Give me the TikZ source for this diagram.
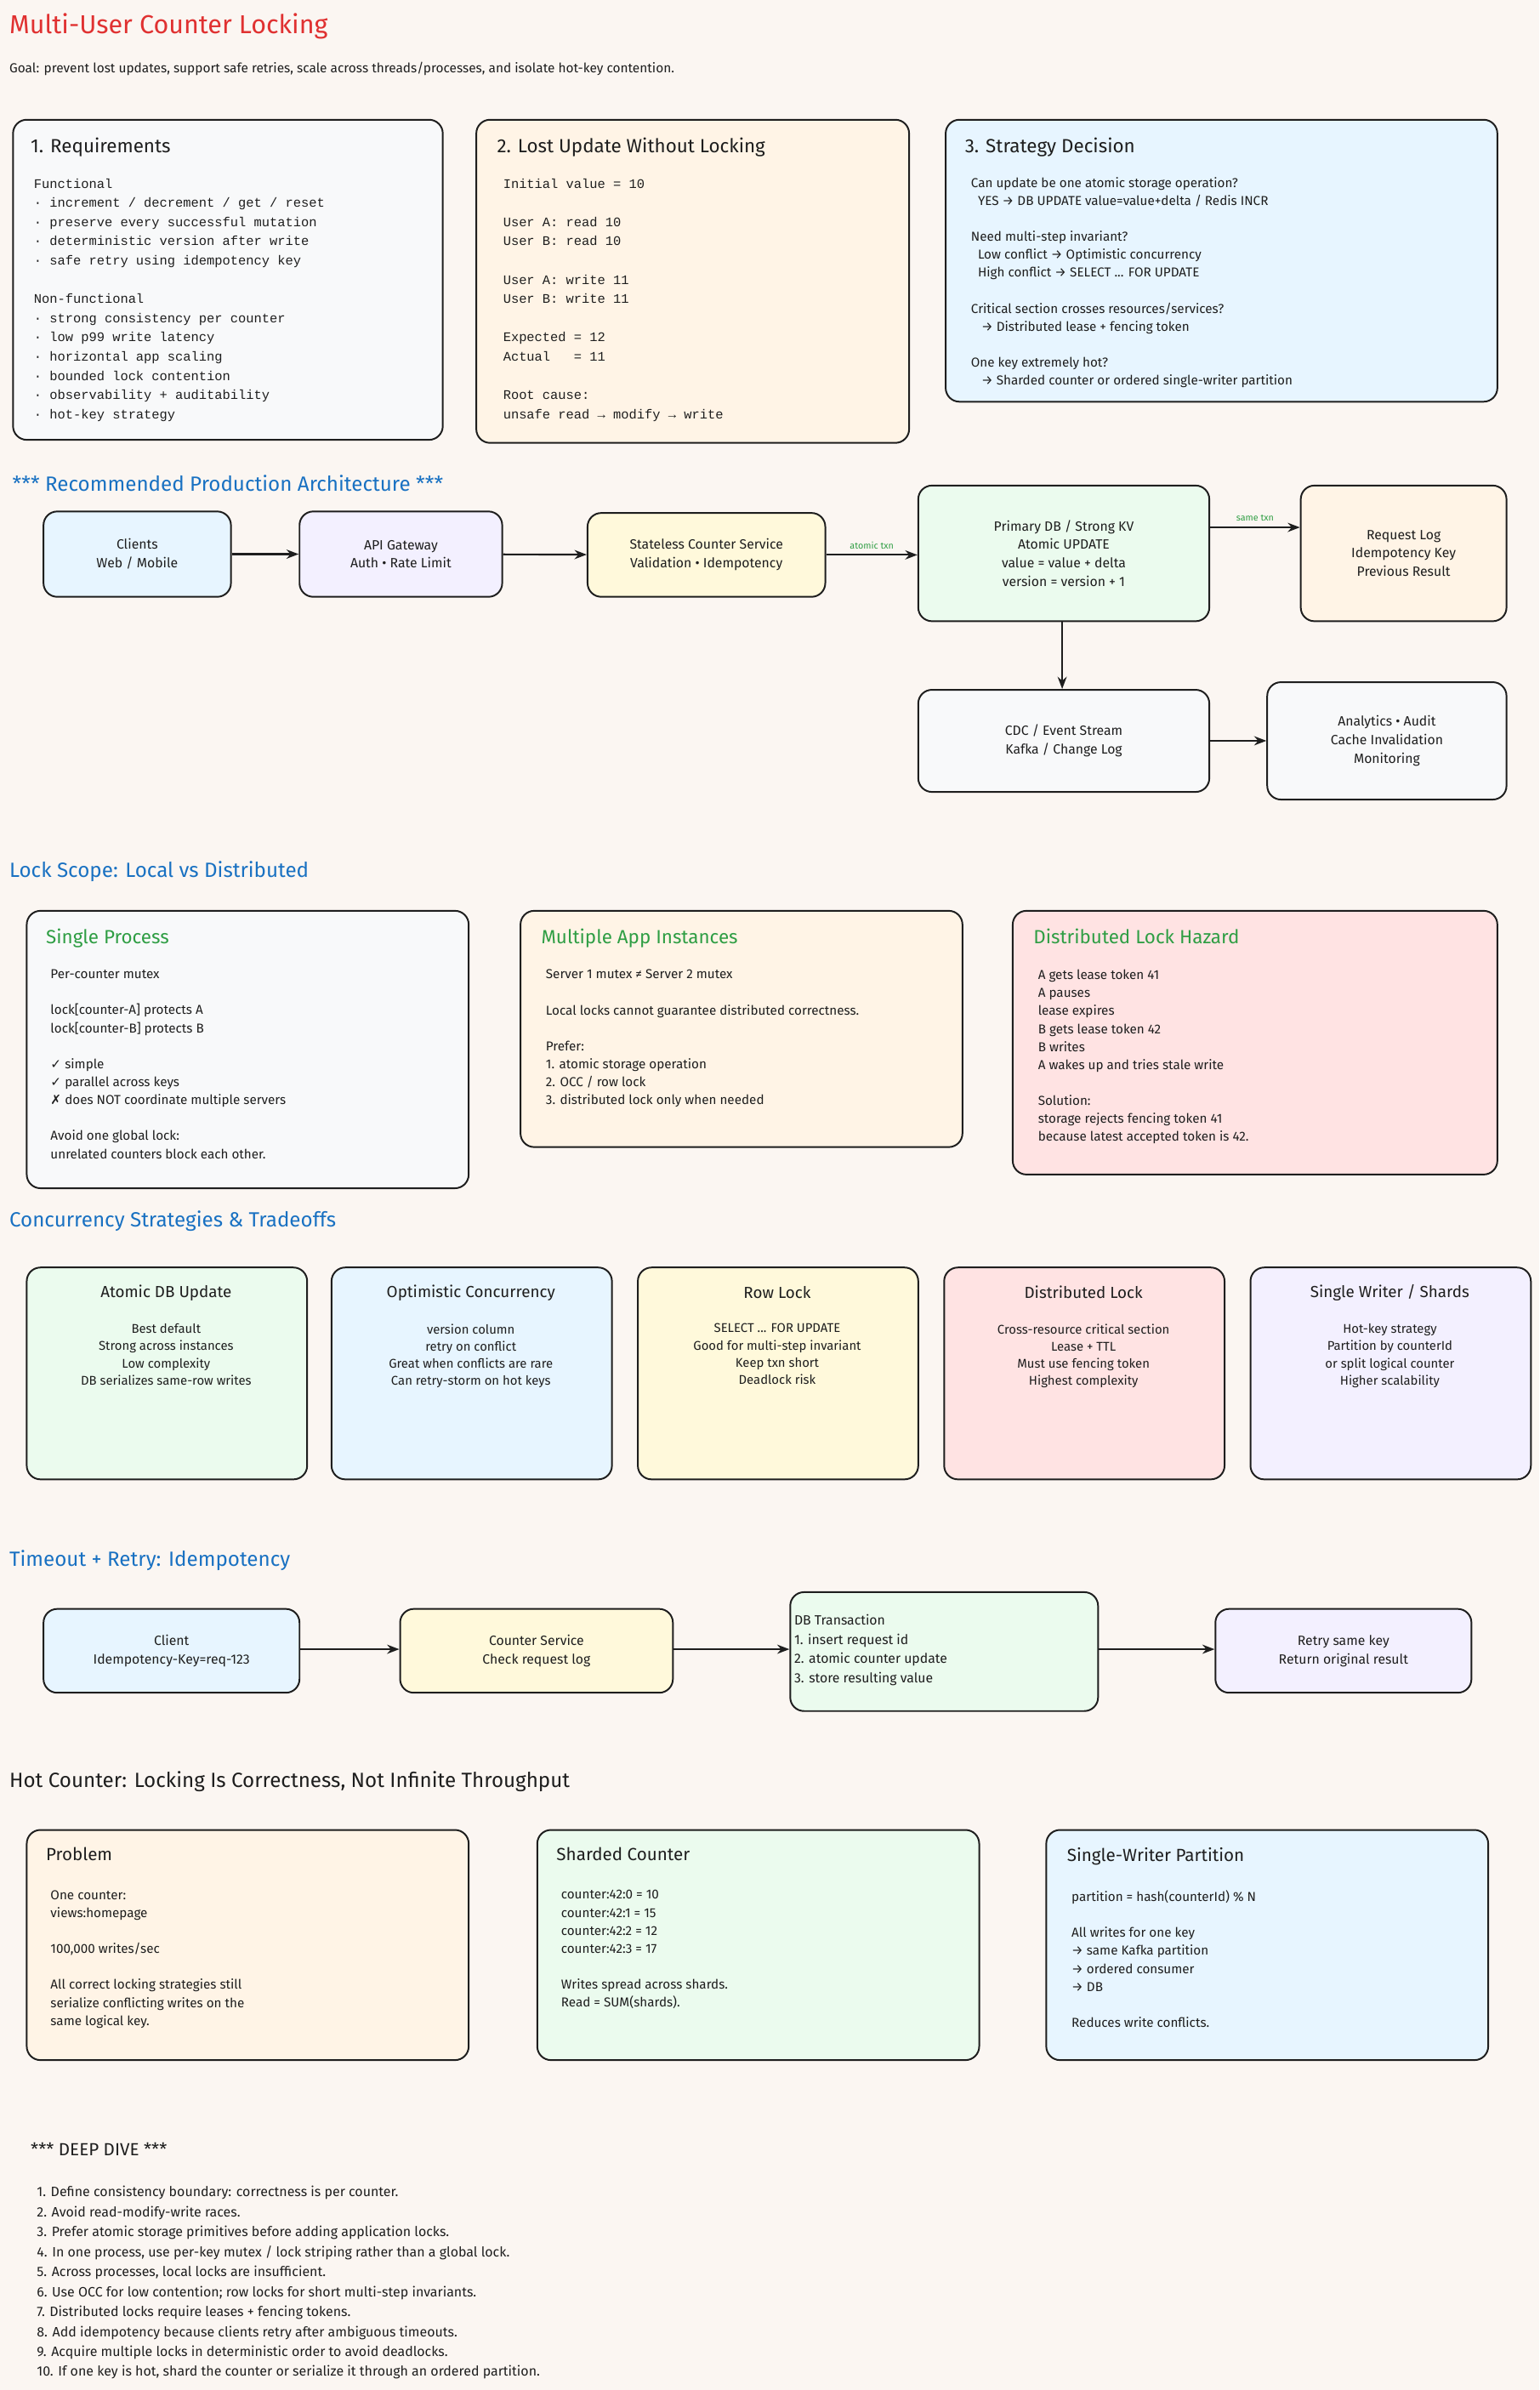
\documentclass[tikz,border=0pt]{standalone}
\usepackage{fontspec}
\setmainfont{Fira Sans}
\newfontfamily\mono{Liberation Mono}
\newfontfamily\symf{DejaVu Sans}
\usetikzlibrary{calc,arrows.meta}
\definecolor{bg}{HTML}{FBF6F2}
\definecolor{ink}{HTML}{1E1E1E}
\definecolor{ttl}{HTML}{E03131}
\definecolor{hb}{HTML}{1971C2}
\definecolor{hg}{HTML}{2F9E44}
\definecolor{cgray}{HTML}{F8F9FA}
\definecolor{corange}{HTML}{FFF4E6}
\definecolor{cblue}{HTML}{E7F5FF}
\definecolor{cgreen}{HTML}{EBFBEE}
\definecolor{cyellow}{HTML}{FFF9DB}
\definecolor{cred}{HTML}{FFE3E3}
\definecolor{cpurple}{HTML}{F3F0FF}
\tikzset{
 box/.style={draw=ink,line width=1.1pt,rounded corners=9pt},
 txt/.style={anchor=north west,align=left,font=\fontsize{8.8}{12.6}\selectfont,text=ink,inner sep=0},
 mtxt/.style={txt,font=\mono\fontsize{8.6}{12.6}\selectfont},
 ctxt/.style={align=center,font=\fontsize{8.8}{12.2}\selectfont,text=ink},
 btitle/.style={anchor=north west,font=\fontsize{12.5}{14}\selectfont,text=ink,inner sep=0},
 sec/.style={anchor=west,font=\fontsize{13.5}{15}\selectfont,text=hb,inner sep=0},
 arr/.style={-{Stealth[length=8pt,width=6pt]},line width=1.2pt,draw=ink},
 lbl/.style={font=\fontsize{6}{7}\selectfont,text=hg,above}
}
\newcommand{\bx}[6]{\node[box,fill=#6,anchor=north west,minimum width=#4-#2,minimum height=#5-#3,inner sep=0] (#1) at (#2,#3) {};}
\newcommand{\cbx}[7]{\node[box,fill=#6,anchor=north west,minimum width=#4-#2,minimum height=#5-#3,inner sep=0,ctxt] (#1) at (#2,#3) {#7};}
\begin{document}
\begin{tikzpicture}[x=1pt,y=-1pt]
\fill[bg] (0,0) rectangle (1010,1568);
\useasboundingbox (0,0) rectangle (1010,1568);
\node[anchor=west,font=\fontsize{17}{19}\selectfont,text=ttl,inner sep=0] (title) at (6,17) {Multi-User Counter Locking};
\node[anchor=west,font=\fontsize{8.6}{10}\selectfont,text=ink,inner sep=0] (goal) at (6,45) {Goal: prevent lost updates, support safe retries, scale across threads/processes, and isolate hot-key contention.};
% top boxes
\bx{b1}{8}{78}{290}{288}{cgray}
\node[btitle] at (20,90) {1. Requirements};
\node[mtxt] at (22,117) {Functional\\· increment / decrement / get / reset\\· preserve every successful mutation\\· deterministic version after write\\· safe retry using idempotency key\\[12.6pt]Non-functional\\· strong consistency per counter\\· low p99 write latency\\· horizontal app scaling\\· bounded lock contention\\· observability + auditability\\· hot-key strategy};
\bx{b2}{312}{78}{596}{290}{corange}
\node[btitle] at (326,90) {2. Lost Update Without Locking};
\node[mtxt] at (330,117) {Initial value = 10\\[12.6pt]User A: read 10\\User B: read 10\\[12.6pt]User A: write 11\\User B: write 11\\[12.6pt]Expected = 12\\Actual~~~= 11\\[12.6pt]Root cause:\\unsafe read → modify → write};
\bx{b3}{620}{78}{982}{263}{cblue}
\node[btitle] at (633,90) {3. Strategy Decision};
\node[txt,font=\fontsize{8.5}{11.8}\selectfont] at (637,116) {Can update be one atomic storage operation?\\~~YES → DB UPDATE value=value+delta / Redis INCR\\[11.8pt]Need multi-step invariant?\\~~Low conflict → Optimistic concurrency\\~~High conflict → SELECT ... FOR UPDATE\\[11.8pt]Critical section crosses resources/services?\\~~~→ Distributed lease + fencing token\\[11.8pt]One key extremely hot?\\~~~→ Sharded counter or ordered single-writer partition};
% architecture
\node[sec] (s1) at (8,317) {*** Recommended Production Architecture ***};
\cbx{cl}{28}{335}{151}{391}{cblue}{Clients\\Web / Mobile}
\cbx{gw}{196}{335}{329}{391}{cpurple}{API Gateway\\Auth • Rate Limit}
\cbx{sv}{385}{336}{541}{391}{cyellow}{Stateless Counter Service\\Validation • Idempotency}
\cbx{db}{602}{318}{793}{407}{cgreen}{Primary DB / Strong KV\\Atomic UPDATE\\value = value + delta\\version = version + 1}
\cbx{rl}{853}{318}{988}{407}{corange}{Request Log\\Idempotency Key\\Previous Result}
\cbx{cdc}{602}{452}{793}{519}{cgray}{CDC / Event Stream\\Kafka / Change Log}
\cbx{an}{831}{447}{988}{524}{cgray}{Analytics • Audit\\Cache Invalidation\\Monitoring}
\draw[arr] (cl) -- (gw);
\draw[arr] (gw) -- (sv);
\draw[arr] (sv) -- node[lbl]{atomic txn} (sv -| db.west);
\draw[arr] (db.east |- 0,346) -- node[lbl]{same txn} (rl.west |- 0,346);
\draw[arr] (db.south -| 697,0) -- (cdc.north -| 697,0);
\draw[arr] (cdc.east |- 0,486) -- (an.west |- 0,486);
% lock scope
\node[sec] (s2) at (6,572) {Lock Scope: Local vs Distributed};
\bx{l1}{17}{597}{307}{779}{cgray}
\node[btitle,text=hg] at (30,609) {Single Process};
\node[txt,font=\fontsize{8.5}{11.8}\selectfont] at (33,636) {Per-counter mutex\\[11.8pt]lock[counter-A] protects A\\lock[counter-B] protects B\\[11.8pt]{\symf ✓} simple\\{\symf ✓} parallel across keys\\{\symf ✗} does NOT coordinate multiple servers\\[11.8pt]Avoid one global lock:\\unrelated counters block each other.};
\bx{l2}{341}{597}{631}{752}{corange}
\node[btitle,text=hg] at (355,609) {Multiple App Instances};
\node[txt,font=\fontsize{8.5}{11.8}\selectfont] at (358,636) {Server 1 mutex ≠ Server 2 mutex\\[11.8pt]Local locks cannot guarantee distributed correctness.\\[11.8pt]Prefer:\\1. atomic storage operation\\2. OCC / row lock\\3. distributed lock only when needed};
\bx{l3}{664}{597}{982}{770}{cred}
\node[btitle,text=hg] at (678,609) {Distributed Lock Hazard};
\node[txt,font=\fontsize{8.5}{11.8}\selectfont] at (681,636) {A gets lease token 41\\A pauses\\lease expires\\B gets lease token 42\\B writes\\A wakes up and tries stale write\\[11.8pt]Solution:\\storage rejects fencing token 41\\because latest accepted token is 42.};
% strategies
\node[sec] (s3) at (6,801) {Concurrency Strategies \& Tradeoffs};
\newcommand{\strat}[5]{\bx{#1}{#2}{831}{#2+184}{970}{#3}
 \node[font=\fontsize{10.5}{12}\selectfont,text=ink] at (#2+92,848) {#4};
 \node[ctxt,anchor=north,font=\fontsize{8.3}{11.3}\selectfont] at (#2+92,865) {#5};}
\strat{t1}{17}{cgreen}{Atomic DB Update}{Best default\\Strong across instances\\Low complexity\\DB serializes same-row writes}
\strat{t2}{217}{cblue}{Optimistic Concurrency}{version column\\retry on conflict\\Great when conflicts are rare\\Can retry-storm on hot keys}
\strat{t3}{418}{cyellow}{Row Lock}{SELECT ... FOR UPDATE\\Good for multi-step invariant\\Keep txn short\\Deadlock risk}
\strat{t4}{619}{cred}{Distributed Lock}{Cross-resource critical section\\Lease + TTL\\Must use fencing token\\Highest complexity}
\strat{t5}{820}{cpurple}{Single Writer / Shards}{Hot-key strategy\\Partition by counterId\\or split logical counter\\Higher scalability}
% retry
\node[sec] (s4) at (6,1024) {Timeout + Retry: Idempotency};
\cbx{rc}{28}{1055}{196}{1110}{cblue}{Client\\Idempotency-Key=req-123}
\cbx{rs}{262}{1055}{441}{1110}{cyellow}{Counter Service\\Check request log}
\bx{rt}{518}{1044}{720}{1122}{cgreen}
\node[txt] at (521,1059) {DB Transaction\\1. insert request id\\2. atomic counter update\\3. store resulting value};
\cbx{rr}{797}{1055}{965}{1110}{cpurple}{Retry same key\\Return original result}
\draw[arr] (rc.east |- 0,1082) -- (rs.west |- 0,1082);
\draw[arr] (rs.east |- 0,1082) -- (rt.west |- 0,1082);
\draw[arr] (rt.east |- 0,1082) -- (rr.west |- 0,1082);
% hot counter
\node[sec,text=ink] (s5) at (6,1169) {Hot Counter: Locking Is Correctness, Not Infinite Throughput};
\bx{h1}{17}{1200}{307}{1351}{corange}
\node[btitle,font=\fontsize{11.5}{13}\selectfont] at (30,1212) {Problem};
\node[txt,font=\fontsize{8.5}{11.8}\selectfont] at (33,1240) {One counter:\\views:homepage\\[11.8pt]100,000 writes/sec\\[11.8pt]All correct locking strategies still\\serialize conflicting writes on the\\same logical key.};
\bx{h2}{352}{1200}{642}{1351}{cgreen}
\node[btitle,font=\fontsize{11.5}{13}\selectfont] at (365,1212) {Sharded Counter};
\node[txt,font=\fontsize{8.5}{11.8}\selectfont] at (368,1240) {counter:42:0 = 10\\counter:42:1 = 15\\counter:42:2 = 12\\counter:42:3 = 17\\[11.8pt]Writes spread across shards.\\Read = SUM(shards).};
\bx{h3}{686}{1200}{976}{1351}{cblue}
\node[btitle,font=\fontsize{11.5}{13}\selectfont] at (700,1212) {Single-Writer Partition};
\node[txt,font=\fontsize{8.5}{11.8}\selectfont] at (703,1240) {partition = hash(counterId) \% N\\[11.8pt]All writes for one key\\→ same Kafka partition\\→ ordered consumer\\→ DB\\[11.8pt]Reduces write conflicts.};
% deep dive
\node[anchor=west,font=\fontsize{11.5}{13}\selectfont,text=ink,inner sep=0] (dd) at (20,1410) {*** DEEP DIVE ***};
\node[txt,font=\fontsize{8.9}{13.1}\selectfont] (ddl) at (24,1434) {1. Define consistency boundary: correctness is per counter.\\2. Avoid read-modify-write races.\\3. Prefer atomic storage primitives before adding application locks.\\4. In one process, use per-key mutex / lock striping rather than a global lock.\\5. Across processes, local locks are insufficient.\\6. Use OCC for low contention; row locks for short multi-step invariants.\\7. Distributed locks require leases + fencing tokens.\\8. Add idempotency because clients retry after ambiguous timeouts.\\9. Acquire multiple locks in deterministic order to avoid deadlocks.\\10. If one key is hot, shard the counter or serialize it through an ordered partition.};
\end{tikzpicture}
\end{document}
